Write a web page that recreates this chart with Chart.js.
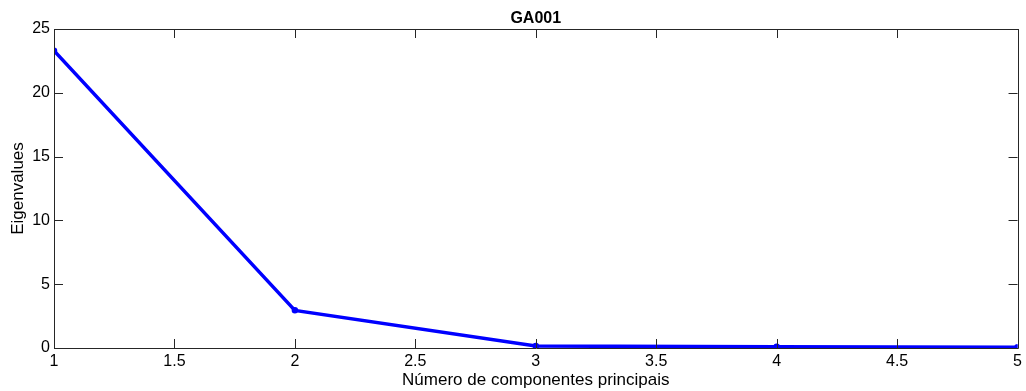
<!DOCTYPE html>
<html>
<head>
<meta charset="utf-8">
<script src="https://cdn.jsdelivr.net/npm/chart.js@4/dist/chart.umd.min.js"></script>
<style>
  html, body { margin: 0; padding: 0; background: #fff; }
  #wrap { width: 1026px; height: 391px; }
</style>
</head>
<body>
<div id="wrap"><canvas id="c"></canvas></div>
<script>
// component number vs eigenvalue
const components = [1, 2, 3, 4, 5];
const eigenvalues = [23.3, 2.95, 0.15, 0.1, 0.05];
const xTicks = [1, 1.5, 2, 2.5, 3, 3.5, 4, 4.5, 5];
const yTicks = [0, 5, 10, 15, 20, 25];
const chartTitle = 'GA001';

const FONT = 'Liberation Sans, Arial, sans-serif';

// matlab-ish box with inward ticks on every side, title centred over the axes
const boxTicks = {
    id: 'boxTicks',
    afterDraw(chart) {
        const { ctx, chartArea: a, scales } = chart;
        ctx.save();
        ctx.strokeStyle = '#262626';
        ctx.lineWidth = 1;
        ctx.beginPath();
        ctx.rect(Math.round(a.left) + 0.5, Math.round(a.top) + 0.5,
                 Math.round(a.right - a.left), Math.round(a.bottom - a.top));
        ctx.stroke();
        const len = 9;
        ctx.beginPath();
        xTicks.forEach(v => {
            const px = Math.round(scales.x.getPixelForValue(v)) + 0.5;
            ctx.moveTo(px, a.bottom); ctx.lineTo(px, a.bottom - len);
            ctx.moveTo(px, a.top); ctx.lineTo(px, a.top + len);
        });
        yTicks.forEach(v => {
            const py = Math.round(scales.y.getPixelForValue(v)) + 0.5;
            ctx.moveTo(a.left, py); ctx.lineTo(a.left + len, py);
            ctx.moveTo(a.right, py); ctx.lineTo(a.right - len, py);
        });
        ctx.stroke();

        ctx.fillStyle = '#000';
        ctx.font = 'bold 16px ' + FONT;
        ctx.textAlign = 'center';
        ctx.textBaseline = 'middle';
        ctx.fillText(chartTitle, (a.left + a.right) / 2, 19);
        ctx.restore();
    }
};

new Chart(document.getElementById('c'), {
    type: 'line',
    data: {
        datasets: [{
            data: components.map((c, i) => ({ x: c, y: eigenvalues[i] })),
            borderColor: '#0000ff',
            backgroundColor: '#0000ff',
            borderWidth: 3.5,
            pointRadius: 2.5,
            pointBorderWidth: 1.5,
            pointStyle: 'circle',
            tension: 0
        }]
    },
    options: {
        responsive: true,
        maintainAspectRatio: false,
        animation: false,
        layout: { padding: { left: 0, right: 4, top: 29, bottom: 0 } },
        plugins: {
            legend: { display: false },
            tooltip: { enabled: false },
            title: { display: false }
        },
        scales: {
            x: {
                type: 'linear',
                min: 1,
                max: 5,
                afterBuildTicks: s => { s.ticks = xTicks.map(v => ({ value: v })); },
                afterFit: s => { s.height = 43; },
                grid: { display: false, drawTicks: false },
                border: { display: false },
                ticks: {
                    color: '#000',
                    font: { family: FONT, size: 16 },
                    padding: 4,
                    maxRotation: 0,
                    callback: v => String(v)
                },
                title: {
                    display: true,
                    text: 'Número de componentes principais',
                    color: '#000',
                    font: { family: FONT, size: 17 },
                    padding: { top: 0, bottom: 0 }
                }
            },
            y: {
                min: 0,
                max: 25,
                afterBuildTicks: s => { s.ticks = yTicks.map(v => ({ value: v })); },
                afterFit: s => { s.width = 54; },
                grid: { display: false, drawTicks: false },
                border: { display: false },
                ticks: {
                    color: '#000',
                    font: { family: FONT, size: 16 },
                    padding: 4
                },
                title: {
                    display: true,
                    text: 'Eigenvalues',
                    color: '#000',
                    font: { family: FONT, size: 17 },
                    padding: { top: 8, bottom: 0 }
                }
            }
        }
    },
    plugins: [boxTicks]
});
</script>
</body>
</html>
